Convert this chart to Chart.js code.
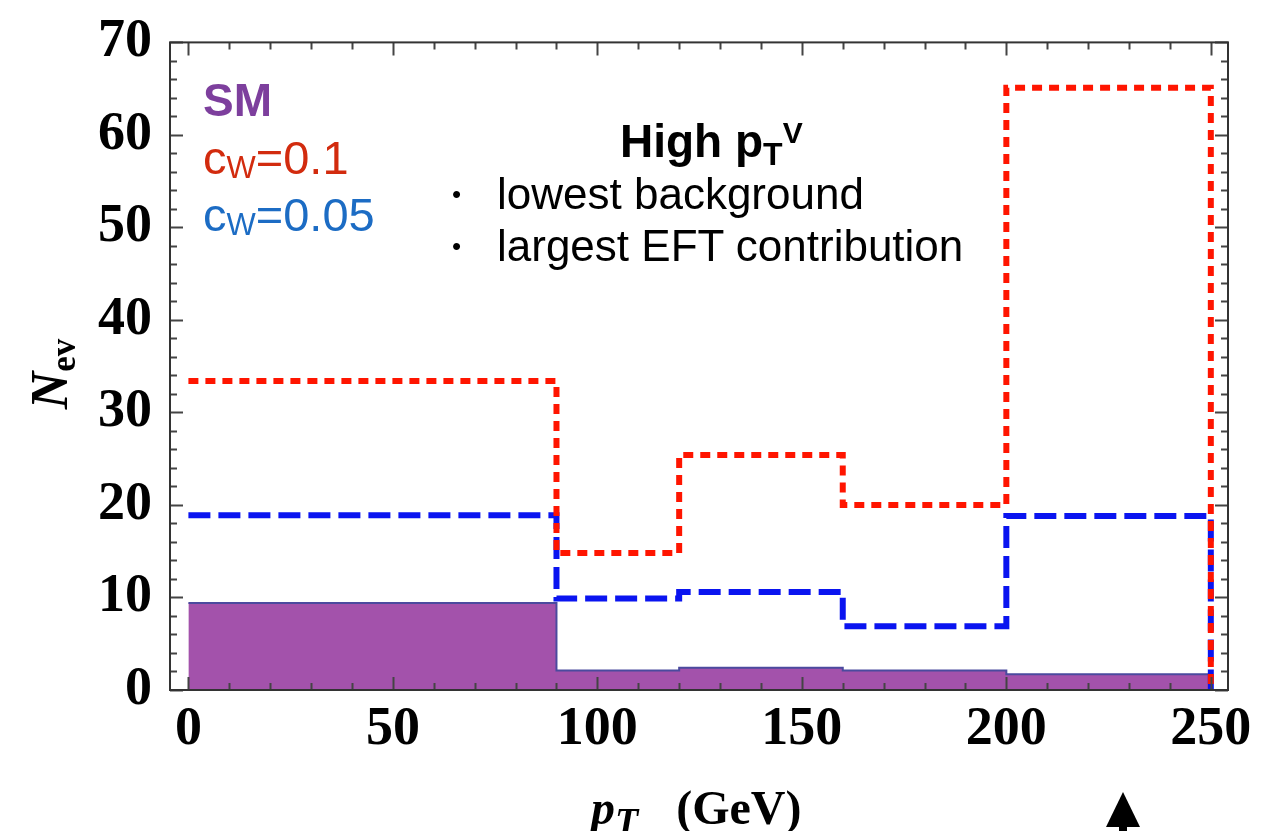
<!DOCTYPE html>
<html>
<head>
<meta charset="utf-8">
<script src="https://cdn.jsdelivr.net/npm/chart.js@4.4.1/dist/chart.umd.min.js"></script>
<style>
  html, body { margin: 0; padding: 0; background: #fff; overflow: hidden; }
  #wrap { position: relative; width: 1269px; height: 831px; }
  #chart { position: absolute; left: 0; top: 0; }
  .note { position: absolute; font-family: "Liberation Sans", Arial, sans-serif; white-space: nowrap; line-height: 1; }
  .serif { position: absolute; font-family: "Liberation Serif", "Times New Roman", serif; font-weight: bold; white-space: nowrap; line-height: 1; }
  .bullet { display: inline-block; width: 45px; font-size: 26px; vertical-align: 6px; }
</style>
</head>
<body>
<div id="wrap">
  <canvas id="chart" width="1269" height="831"></canvas>

  <!-- legend text -->
  <div class="note" style="left:203px; top:77px; font-size:46px; font-weight:bold; color:#7d3f9d;">SM</div>
  <div class="note" style="left:203px; top:134px; font-size:47px; color:#d22b0e;">c<span style="font-size:31px; position:relative; top:4px;">W</span>=0.1</div>
  <div class="note" style="left:203px; top:191px; font-size:47px; color:#1c6cc4;">c<span style="font-size:31px; position:relative; top:4px;">W</span>=0.05</div>

  <!-- high pT box -->
  <div class="note" style="left:620px; top:118px; font-size:46px; font-weight:bold; color:#000;">High p<span style="font-size:32px; position:relative; top:8px;">T</span><span style="font-size:30px; position:relative; top:-14px;">V</span></div>
  <div class="note" style="left:452px; top:172px; font-size:44px; color:#000;"><span class="bullet">•</span>lowest background</div>
  <div class="note" style="left:452px; top:224px; font-size:44px; color:#000;"><span class="bullet">•</span>largest EFT contribution</div>

  <!-- axis titles -->
  <div class="serif" style="left:591px; top:784px; font-size:48px; color:#000;"><i>p<span style="font-size:38px; position:relative; top:10px;">T</span></i><span style="margin-left:38px;">(GeV)</span></div>
  <div class="serif" style="left:0px; top:348px; font-size:52px; color:#000; transform:rotate(-90deg); transform-origin:50% 50%; width:100px; text-align:center;"><i>N</i><span style="font-size:35px; position:relative; top:8px;">ev</span></div>

  <!-- arrow -->
  <svg style="position:absolute; left:1100px; top:788px;" width="50" height="43">
    <polygon points="23,4 6,39 40,39" fill="#000"/>
    <rect x="19" y="38" width="8" height="5" fill="#000"/>
  </svg>
</div>

<script>
// bin edges in GeV and event counts per bin
const binEdges = [0, 90, 120, 160, 200, 250];
const smCounts = [9.4, 2.1, 2.4, 2.1, 1.7];
const cw01Counts = [33.4, 14.8, 25.4, 20.0, 65.1];
const cw005Counts = [18.9, 9.9, 10.6, 6.9, 18.8];

const xTickValues = [0, 50, 100, 150, 200, 250];
const yTickValues = [0, 10, 20, 30, 40, 50, 60, 70];

function stepPoints(edges, counts) {
  const pts = counts.map((c, i) => ({ x: edges[i], y: c }));
  const last = edges[edges.length - 1];
  pts.push({ x: last, y: counts[counts.length - 1] });
  pts.push({ x: last, y: 0 });
  return pts;
}

// frame with inward ticks on all four sides
const framePlugin = {
  id: "frame",
  afterDatasetsDraw(chart) {
    const { ctx, chartArea: a, scales } = chart;
    ctx.save();
    ctx.strokeStyle = "#444";
    ctx.lineWidth = 2;
    ctx.beginPath();
    for (let v = 0; v <= 250; v += 10) {
      const px = Math.round(scales.x.getPixelForValue(v)) + 0.5;
      const len = v % 50 === 0 ? 13 : 7;
      ctx.moveTo(px, a.bottom); ctx.lineTo(px, a.bottom - len);
      ctx.moveTo(px, a.top); ctx.lineTo(px, a.top + len);
    }
    for (let v = 0; v <= 70; v += 2) {
      const py = Math.round(scales.y.getPixelForValue(v)) + 0.5;
      const len = v % 10 === 0 ? 13 : 7;
      ctx.moveTo(a.left, py); ctx.lineTo(a.left + len, py);
      ctx.moveTo(a.right, py); ctx.lineTo(a.right - len, py);
    }
    ctx.stroke();
    ctx.strokeStyle = "#333";
    ctx.strokeRect(a.left, a.top, a.right - a.left, a.bottom - a.top);
    ctx.restore();
  }
};

const tickFont = { family: "'Liberation Serif', 'Times New Roman', serif", size: 54, weight: "bold" };

new Chart(document.getElementById("chart"), {
  type: "line",
  data: {
    datasets: [
      {
        label: "SM",
        data: stepPoints(binEdges, smCounts),
        stepped: true,
        borderColor: "#4b4a9e",
        borderWidth: 2,
        backgroundColor: "#a352ab",
        fill: "origin",
        pointRadius: 0,
        order: 3
      },
      {
        label: "cW=0.05",
        data: stepPoints(binEdges, cw005Counts),
        stepped: true,
        borderColor: "#0a14f0",
        borderWidth: 6,
        borderDash: [22, 8],
        fill: false,
        pointRadius: 0,
        order: 2
      },
      {
        label: "cW=0.1",
        data: stepPoints(binEdges, cw01Counts),
        stepped: true,
        borderColor: "#ff1500",
        borderWidth: 6,
        borderDash: [10, 7],
        fill: false,
        pointRadius: 0,
        order: 1
      }
    ]
  },
  options: {
    responsive: false,
    animation: false,
    layout: { padding: { left: 0, top: 38, right: 41, bottom: 0 } },
    plugins: {
      legend: { display: false },
      tooltip: { enabled: false }
    },
    scales: {
      x: {
        type: "linear",
        min: -4.5,
        max: 254.2,
        grid: { display: false },
        border: { display: false },
        afterBuildTicks: s => { s.ticks = xTickValues.map(v => ({ value: v })); },
        afterFit: s => { s.height = 141; },
        ticks: { color: "#000", font: tickFont, padding: 0, maxRotation: 0 }
      },
      y: {
        type: "linear",
        min: 0,
        max: 70,
        grid: { display: false },
        border: { display: false },
        afterBuildTicks: s => { s.ticks = yTickValues.map(v => ({ value: v })); },
        afterFit: s => { s.width = 170; },
        ticks: { color: "#000", font: tickFont, padding: 10 }
      }
    }
  },
  plugins: [framePlugin]
});
</script>
</body>
</html>
